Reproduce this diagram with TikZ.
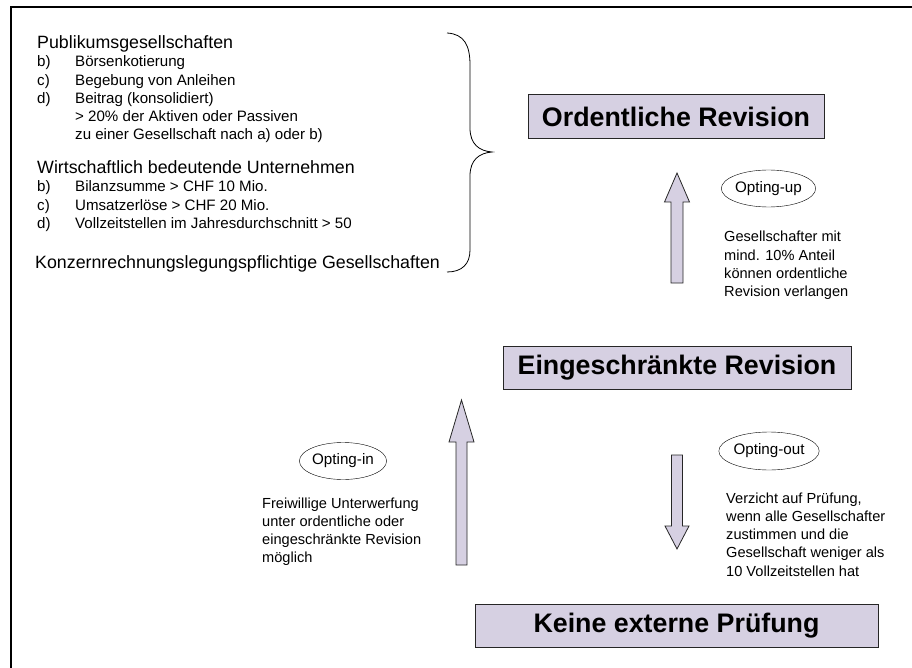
\documentclass[tikz,border=0pt]{standalone}
\usepackage{fontspec}
\setmainfont{Liberation Sans}
\usetikzlibrary{shapes.geometric}

\definecolor{lila}{RGB}{214,208,226}

\tikzset{
  stufe/.style={draw=black!85, line width=1pt, fill=lila, inner sep=0pt,
    font=\fontsize{26.8}{30}\selectfont\bfseries},
  optung/.style={draw, ellipse, inner sep=0pt, font=\fontsize{15.2}{18}\selectfont},
  titel/.style={anchor=base west, inner sep=0pt, font=\fontsize{17.8}{21}\selectfont},
  zeile/.style={anchor=base west, inner sep=0pt, font=\fontsize{15.1}{18}\selectfont},
  klein/.style={anchor=base west, inner sep=0pt, font=\fontsize{14.6}{17}\selectfont},
  pfeil/.style={draw=black!85, line width=0.8pt, fill=lila, line join=miter}
}

\begin{document}
\begin{tikzpicture}[x=1pt,y=-1pt]
	\useasboundingbox (0,0) rectangle (912,668);
	
	% Rahmen
	\draw[line width=1.3pt] (11,668) -- (11,7) -- (912,7);
	
	% Kriterien links
	\node[titel] (pub) at (37,49) {Publikumsgesellschaften};
	\foreach \lbl/\txt/\y [count=\i] in {b)/Börsenkotierung/67, c)/Begebung von Anleihen/85.5, d)/Beitrag (konsolidiert)/103.5}{
		\node[zeile] (pubL\i) at (37,\y) {\lbl};
		\node[zeile] (pubT\i) at (75,\y) {\txt};
	}
	\node[zeile] (pubT4) at (75,122) {> 20\% der Aktiven oder Passiven};
	\node[zeile] (pubT5) at (75,140) {zu einer Gesellschaft nach a) oder b)};
	
	\node[titel] (wirt) at (37,174) {Wirtschaftlich bedeutende Unternehmen};
	\foreach \lbl/\txt/\y [count=\i] in {b)/Bilanzsumme > CHF 10 Mio./192, c)/Umsatzerlöse > CHF 20 Mio./210.5, d)/Vollzeitstellen im Jahresdurchschnitt > 50/229}{
		\node[zeile] (wirtL\i) at (37,\y) {\lbl};
		\node[zeile] (wirtT\i) at (75,\y) {\txt};
	}
	
	\node[titel] (konz) at (35,268) {Konzernrechnungslegungspflichtige Gesellschaften};
	
	% Klammer
	\draw[line width=0.8pt] (447,33) .. controls (464,34) and (470,45) .. (470,65) -- (470,128)
		.. controls (470,144) and (479,151) .. (492,152)
		.. controls (479,153) and (470,160) .. (470,176) -- (470,250)
		.. controls (470,264) and (462,272) .. (447,272);
	
	% Stufen
	\node[stufe, minimum width=296, minimum height=44] (ord) at (676,117) {Ordentliche Revision};
	\node[stufe, minimum width=348, minimum height=43] (eing) at (677,367.5) {Eingeschränkte Revision};
	\node[stufe, minimum width=403, minimum height=43] (keine) at (676.5,625.5) {Keine externe Prüfung};
	
	% Opting-up
	\draw[pfeil] (671,283) -- (671,202) -- (664.5,202) -- (677,173) -- (689.5,202) -- (683,202) -- (683,283) -- cycle;
	\node[optung, minimum width=87, minimum height=37] (up) at (768.5,188.5) {Opting-up};
	\foreach \txt [count=\i from 0] in {Gesellschafter mit, mind. 10\% Anteil, können ordentliche, Revision verlangen}
		\node[klein] (upT\i) at (724,242+18.3*\i) {\txt};
	
	% Opting-in
	\draw[pfeil] (456,565) -- (456,442) -- (449,442) -- (461.5,400) -- (474,442) -- (467,442) -- (467,565) -- cycle;
	\node[optung, minimum width=87, minimum height=37] (in) at (343,461) {Opting-in};
	\foreach \txt [count=\i from 0] in {Freiwillige Unterwerfung, unter ordentliche oder, eingeschränkte Revision, möglich}
		\node[klein] (inT\i) at (262,508+18.2*\i) {\txt};
	
	% Opting-out
	\draw[pfeil] (671.5,455) -- (682.5,455) -- (682.5,526) -- (689,526) -- (677,549) -- (665,526) -- (671.5,526) -- cycle;
	\node[optung, minimum width=86, minimum height=38] (out) at (769,451) {Opting-out};
	\foreach \txt [count=\i from 0] in {{Verzicht auf Prüfung,}, wenn alle Gesellschafter, zustimmen und die, Gesellschaft weniger als, 10 Vollzeitstellen hat}
		\node[klein] (outT\i) at (726,503+18.3*\i) {\txt};
	
\end{tikzpicture}
\end{document}
